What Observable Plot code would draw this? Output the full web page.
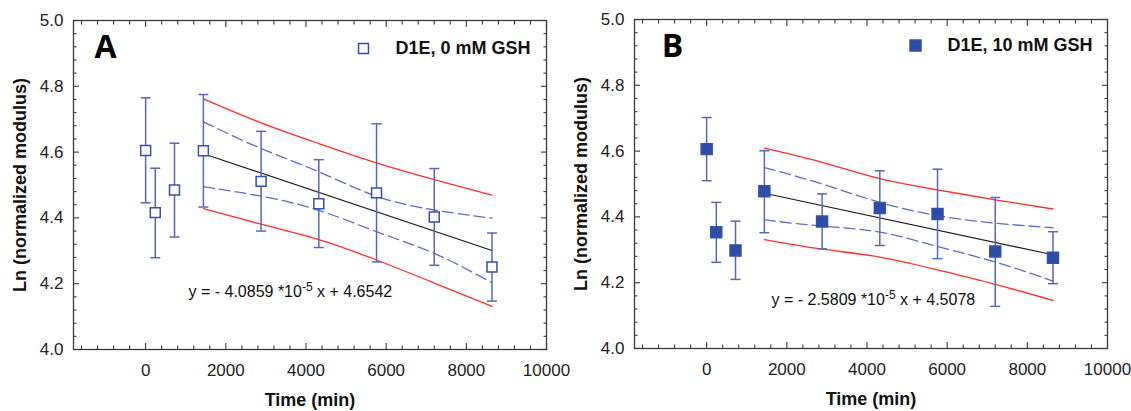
<!DOCTYPE html>
<html>
<head>
<meta charset="utf-8">
<script src="https://cdn.jsdelivr.net/npm/d3@7"></script>
<script src="https://cdn.jsdelivr.net/npm/@observablehq/plot@0.6"></script>
<style>
  body { margin: 0; background: #fff; width: 1131px; height: 411px; overflow: hidden; position: relative; }
  #a { position: absolute; left: 0; top: 0; }
  #b { position: absolute; left: 561px; top: 0; }
</style>
</head>
<body>
<div id="a"></div>
<div id="b"></div>
<script>
// ---- data ----
const times = [0, 240, 720, 1440, 2880, 4320, 5760, 7200, 8640];

const meanA = [4.605, 4.416, 4.485, 4.604, 4.511, 4.443, 4.476, 4.403, 4.251];
const hiA   = [4.765, 4.551, 4.627, 4.775, 4.663, 4.577, 4.686, 4.550, 4.354];
const loA   = [4.446, 4.279, 4.342, 4.433, 4.360, 4.310, 4.266, 4.256, 4.147];

const meanB = [4.606, 4.353, 4.298, 4.478, 4.386, 4.427, 4.409, 4.295, 4.276];
const hiB   = [4.702, 4.444, 4.387, 4.601, 4.470, 4.540, 4.545, 4.459, 4.355];
const loB   = [4.510, 4.262, 4.210, 4.352, 4.303, 4.313, 4.273, 4.128, 4.197];

const fitX = [1440, 8640];
const fitA = [4.595, 4.301];
const fitB = [4.472, 4.285];

const bandX   = [1440, 2880, 4320, 5760, 7200, 8640];
const confUpA = [4.692, 4.611, 4.540, 4.466, 4.424, 4.399];
const confLoA = [4.495, 4.466, 4.423, 4.358, 4.292, 4.203];
const predUpA = [4.762, 4.689, 4.626, 4.567, 4.516, 4.469];
const predLoA = [4.428, 4.381, 4.334, 4.272, 4.202, 4.131];

const confUpB = [4.550, 4.500, 4.444, 4.404, 4.381, 4.367];
const confLoB = [4.391, 4.372, 4.354, 4.310, 4.263, 4.205];
const predUpB = [4.609, 4.566, 4.516, 4.482, 4.452, 4.424];
const predLoB = [4.331, 4.302, 4.278, 4.239, 4.195, 4.146];

const eqA = ["y = - 4.0859 *10", "-5", " x + 4.6542"];
const eqB = ["y = - 2.5809 *10", "-5", " x + 4.5078"];

const legendA = "D1E, 0 mM GSH";
const legendB = "D1E, 10 mM GSH";

const xMajor = [0, 2000, 4000, 6000, 8000, 10000];
const yMajor = [4.0, 4.2, 4.4, 4.6, 4.8, 5.0];
const xMinor = d3.range(-1600, 10000, 400).filter(v => v % 2000 !== 0);
const yMinor = d3.range(1, 25).map(i => 4 + i * 0.04).filter(v => Math.abs(v * 5 - Math.round(v * 5)) > 1e-6);

// ---- styling ----
const FONT = '"Liberation Sans", Arial, Helvetica, sans-serif';
const RED = "#ff2d2d";
const DASH = "#5a6ec6";
const BAR = "#5668be";
const MARK = "#3550ad";
const FRAME = "#3a3a3a";

const cap = { draw(ctx) { ctx.moveTo(-5, 0); ctx.lineTo(5, 0); } };

function tickAxes() {
  const out = [];
  for (const [ticks, len] of [[xMajor, -6], [xMinor, -3.5]]) {
    for (const anchor of ["bottom", "top"]) {
      out.push(Plot.axisX({ticks, anchor, tickSize: len, tickFormat: () => "", label: null, stroke: FRAME, strokeWidth: 1.1}));
    }
  }
  for (const [ticks, len] of [[yMajor, -6], [yMinor, -3.5]]) {
    for (const anchor of ["left", "right"]) {
      out.push(Plot.axisY({ticks, anchor, tickSize: len, tickFormat: () => "", label: null, stroke: FRAME, strokeWidth: 1.1}));
    }
  }
  return out;
}

function panel(o) {
  const pts = times.map((t, i) => ({t, m: o.mean[i], hi: o.hi[i], lo: o.lo[i]}));
  const band = bandX.map((t, i) => ({t, cu: o.confUp[i], cl: o.confLo[i], pu: o.predUp[i], pl: o.predLo[i]}));
  const fit = fitX.map((t, i) => ({t, y: o.fit[i]}));
  const eqText = o.eq.join("");
  const svg = Plot.plot({
    width: o.width,
    height: 411,
    marginLeft: 73,
    marginRight: o.mr,
    marginTop: o.mt,
    marginBottom: o.mb,
    x: {domain: [-1800, 10000], axis: null},
    y: {domain: [4.0, 5.0], axis: null},
    style: {fontFamily: FONT, background: "transparent", overflow: "visible"},
    marks: [
      Plot.line(band, {x: "t", y: "pu", stroke: RED, strokeWidth: 1.3, curve: "natural"}),
      Plot.line(band, {x: "t", y: "pl", stroke: RED, strokeWidth: 1.3, curve: "natural"}),
      Plot.line(band, {x: "t", y: "cu", stroke: DASH, strokeWidth: 1.3, strokeDasharray: "11,5", curve: "natural"}),
      Plot.line(band, {x: "t", y: "cl", stroke: DASH, strokeWidth: 1.3, strokeDasharray: "11,5", curve: "natural"}),
      Plot.line(fit, {x: "t", y: "y", stroke: "#1c1c1c", strokeWidth: 1.2}),
      Plot.ruleX(pts, {x: "t", y1: "lo", y2: "hi", stroke: BAR, strokeWidth: 1.5}),
      Plot.dot(pts, {x: "t", y: "hi", symbol: cap, r: 5, fill: "none", stroke: BAR, strokeWidth: 1.5}),
      Plot.dot(pts, {x: "t", y: "lo", symbol: cap, r: 5, fill: "none", stroke: BAR, strokeWidth: 1.5}),
      Plot.dot(pts, {x: "t", y: "m", symbol: "square", r: o.r, fill: o.fill, stroke: MARK, strokeWidth: 1.5}),
      Plot.frame({stroke: FRAME, strokeWidth: 1.3}),
      ...tickAxes(),
      Plot.axisX({ticks: xMajor, anchor: "bottom", tickSize: 0, tickPadding: 14, label: null, fontSize: 17, fill: "#222", tickFormat: d => String(d)}),
      Plot.axisY({ticks: yMajor, anchor: "left", tickSize: 0, tickPadding: 10, label: null, fontSize: 17, fill: "#222", tickFormat: d3.format(".1f")}),
      Plot.text(["Time (min)"], {text: d => d, frameAnchor: "bottom", dy: 51, textAnchor: "middle", lineAnchor: "middle", fontSize: 18, fontWeight: "bold", fill: "#111"}),
      Plot.text(["Ln (normalized modulus)"], {text: d => d, frameAnchor: "left", dx: -53, rotate: -90, textAnchor: "middle", lineAnchor: "middle", fontSize: 18, fontWeight: "bold", fill: "#111"}),
      Plot.text([o.letter], {text: d => d, frameAnchor: "top-left", dx: o.letDx, dy: 27, textAnchor: "middle", lineAnchor: "middle", fontFamily: '"Open Sans", sans-serif', fontWeight: "bold", fontSize: 32, fill: "#000"}),
      Plot.dot([0], {frameAnchor: "top-right", dx: o.legDx, dy: o.legDy, symbol: "square", r: o.r, fill: o.fill, stroke: MARK, strokeWidth: 1.5}),
      Plot.text([o.legend], {text: d => d, frameAnchor: "top-right", dx: o.legDx + 32, dy: o.legDy, textAnchor: "start", lineAnchor: "middle", fontSize: 18, fontWeight: "bold", fill: "#111"}),
      Plot.text([eqText], {text: d => d, frameAnchor: "top-left", dx: o.eqDx, dy: o.eqDy, textAnchor: "start", lineAnchor: "middle", fontSize: 16, fill: "#111"})
    ]
  });
  // superscript in the regression equation
  for (const el of svg.querySelectorAll("text")) {
    if (el.textContent === eqText) {
      el.textContent = "";
      el.appendChild(document.createTextNode(o.eq[0]));
      const sup = document.createElementNS("http://www.w3.org/2000/svg", "tspan");
      sup.setAttribute("dy", "-6");
      sup.setAttribute("font-size", "12");
      sup.textContent = o.eq[1];
      el.appendChild(sup);
      const rest = document.createElementNS("http://www.w3.org/2000/svg", "tspan");
      rest.setAttribute("dy", "6");
      rest.textContent = o.eq[2];
      el.appendChild(rest);
    }
  }
  return svg;
}

document.getElementById("a").appendChild(panel({
  width: 561, mr: 15, mt: 20, mb: 62,
  mean: meanA, hi: hiA, lo: loA, fit: fitA,
  confUp: confUpA, confLo: confLoA, predUp: predUpA, predLo: predLoA,
  eq: eqA, legend: legendA, letter: "A", letDx: 32,
  r: 5.6, fill: "#fff",
  legDx: -183, legDy: 28, eqDx: 115, eqDy: 271
}));

document.getElementById("b").appendChild(panel({
  width: 570, mr: 24, mt: 19, mb: 63,
  mean: meanB, hi: hiB, lo: loB, fit: fitB,
  confUp: confUpB, confLo: confLoB, predUp: predUpB, predLo: predLoB,
  eq: eqB, legend: legendB, letter: "B", letDx: 38,
  r: 6.2, fill: "#2d4ca3",
  legDx: -192, legDy: 26, eqDx: 137, eqDy: 280
}));
</script>
</body>
</html>
